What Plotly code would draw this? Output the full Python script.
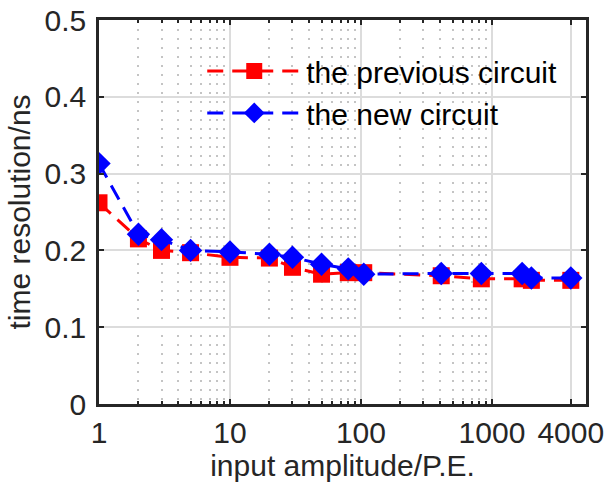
import plotly.graph_objects as go

# Input amplitude (photoelectrons) and measured time resolution (ns)
amplitude = [1, 2, 3, 5, 10, 20, 30, 50, 80, 105, 410, 830, 1700, 2000, 4000]
res_previous = [0.262, 0.215, 0.200, 0.197, 0.191, 0.190, 0.178, 0.169,
                0.171, 0.171, 0.167, 0.163, 0.163, 0.161, 0.161]
res_new = [0.313, 0.221, 0.214, 0.200, 0.198, 0.195, 0.191, 0.182,
           0.176, 0.169, 0.170, 0.170, 0.170, 0.164, 0.164]

x_tickvals = [1, 10, 100, 1000, 4000]
x_ticktext = ["1", "10", "100", "1000", "4000"]
x_minor = [m * d for d in (1, 10, 100) for m in range(2, 10)]
y_tickvals = [0, 0.1, 0.2, 0.3, 0.4, 0.5]
y_ticktext = ["0", "0.1", "0.2", "0.3", "0.4", "0.5"]

FONT = "Arial, Liberation Sans, Helvetica, sans-serif"
AXIS = "#262626"
FS = 30

fig = go.Figure()
fig.add_trace(go.Scatter(
    x=amplitude, y=res_previous, name="the previous circuit",
    mode="lines+markers",
    line=dict(color="#ff0000", width=3, dash="16px,9px"),
    marker=dict(symbol="square", size=17, color="#ff0000"),
))
fig.add_trace(go.Scatter(
    x=amplitude, y=res_new, name="the new circuit",
    mode="lines+markers",
    line=dict(color="#0000ff", width=3, dash="16px,9px"),
    marker=dict(symbol="diamond", size=18, color="#0000ff"),
))

fig.update_layout(
    width=604, height=485,
    margin=dict(l=99, r=18, t=20, b=81, autoexpand=False),
    paper_bgcolor="white", plot_bgcolor="white",
    font=dict(family=FONT, size=FS, color=AXIS),
    legend=dict(
        x=0.212, y=0.935, xanchor="left", yanchor="top",
        bgcolor="rgba(0,0,0,0)", borderwidth=0,
        font=dict(size=FS, color="black"),
        itemwidth=94, tracegroupgap=0,
    ),
    xaxis=dict(
        type="log", range=[0, 3.718], automargin=False,
        ticklabeloverflow="allow",
        tickmode="array", tickvals=x_tickvals, ticktext=x_ticktext,
        ticks="inside", ticklen=5, tickwidth=2, tickcolor=AXIS,
        showline=True, linecolor=AXIS, linewidth=2.5, mirror="ticks",
        showgrid=True, gridcolor="#dcdcdc", gridwidth=2,
        zeroline=False,
        minor=dict(tickmode="array", tickvals=x_minor, ticks="inside",
                   ticklen=3, tickwidth=2, tickcolor=AXIS,
                   showgrid=True, gridcolor="#c4c4c4", gridwidth=2,
                   griddash="2px,7px"),
        title=dict(text="input amplitude/P.E.", font=dict(size=FS, color=AXIS),
                   standoff=2),
        tickfont=dict(size=FS, color=AXIS),
    ),
    yaxis=dict(
        range=[0, 0.5], automargin=True,
        ticklabeloverflow="allow",
        tickmode="array", tickvals=y_tickvals, ticktext=y_ticktext,
        ticks="inside", ticklen=5, tickwidth=2, tickcolor=AXIS,
        showline=True, linecolor=AXIS, linewidth=2.5, mirror="ticks",
        showgrid=True, gridcolor="#dcdcdc", gridwidth=2,
        zeroline=False, ticklabelstandoff=4,
        title=dict(text="time resolution/ns", font=dict(size=FS, color=AXIS),
                   standoff=6),
        tickfont=dict(size=FS, color=AXIS),
    ),
)

fig.write_html("out.html")
